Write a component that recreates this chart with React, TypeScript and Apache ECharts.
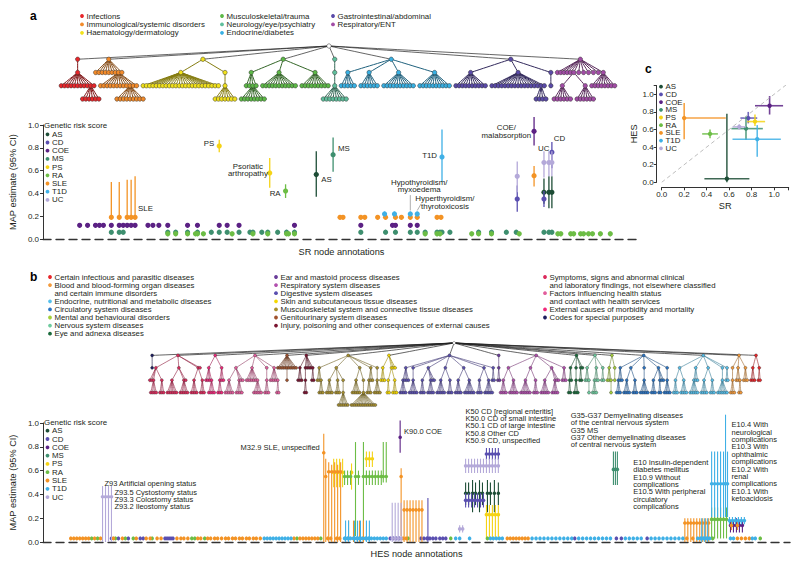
import React, { useEffect, useRef } from "react";
import * as echarts from "echarts";

const FONT = '"Liberation Sans", Arial, Helvetica, sans-serif';
const INK = "#231f20";

// ---------------- Genetic risk scores ----------------
const GRS = ["AS", "CD", "COE", "MS", "PS", "RA", "SLE", "T1D", "UC"];
const GRS_COLORS = ["#1d4d36", "#5a4fb0", "#5b2184", "#3e8f6f", "#f5d315", "#6cbd45", "#f39325", "#3fb0e6", "#b4a9d9"];

// ---------------- Panel a: SR nodes  [node position, MAP, CI low, CI high] ----------------
const ROW_CI = 0.02;
const aAS = [[313, 0.565, 0.37, 0.77], [543, 0.41, 0.31, 0.53], [548, 0.41, 0.27, 0.55], [551, 0.41, 0.27, 0.55]];
const aCD = [[516, 0.35, 0.24, 0.47], [543, 0.35, 0.28, 0.42], [551, 0.76, 0.62, 0.85]];
const aCOE = [[533, 0.945, 0.82, 1.07]];
const aCOErowX = [74, 82, 90, 94, 98, 106, 114, 118, 122, 126, 130, 143, 148, 154, 163, 183, 193, 215, 223, 235, 291, 358, 390, 393, 408, 415];
const aCOErowY = 0.12;
const aMS = [[330, 0.74, 0.59, 0.89]];
const aMSrowX = [106, 114, 118, 163, 171, 183, 193, 207, 215, 223, 235, 246, 249, 258, 264, 274, 283, 291, 358, 383, 393, 408, 415, 423, 435, 438, 440, 448, 477, 490, 505, 515, 543, 548, 551];
const aMSrowY = 0.06;
const aPS = [[215, 0.815, 0.76, 0.87], [266, 0.58, 0.45, 0.71]];
const aRA = [[282, 0.42, 0.36, 0.48]];
const aRArowX = [163, 171, 183, 191, 193, 199, 228, 249, 264, 283, 285, 291, 423, 435, 438, 470, 477, 490, 518, 557, 560, 570, 573, 580, 583, 588, 592, 600, 610];
const aRArowY = 0.045;
const aSLE = [[106, 0.19, 0.17, 0.5], [114, 0.19, 0.17, 0.5], [122, 0.19, 0.17, 0.52], [126, 0.19, 0.17, 0.52], [130, 0.19, 0.17, 0.55], [533, 0.555, 0.46, 0.64]];
const aSLErowX = [337, 340, 358, 362, 375, 383, 393, 399, 408, 415, 435, 439];
const aSLErowY = 0.19;
const aT1D = [[440, 0.72, 0.5, 0.96]];
const aT1DrowX = [382, 392, 408, 415];
const aT1DrowY = 0.22;
const aUC = [[516, 0.55, 0.41, 0.68], [543, 0.67, 0.54, 0.77], [548, 0.67, 0.55, 0.77], [551, 0.67, 0.55, 0.77]];

// ---------------- Panel b: HES nodes ----------------
const bBaseY = 0.03;
const bAS = [[463, 0.41, 0.31, 0.5], [466, 0.41, 0.31, 0.5], [470, 0.41, 0.25, 0.52], [473, 0.41, 0.31, 0.5], [477, 0.41, 0.25, 0.52], [480, 0.41, 0.31, 0.5], [485, 0.41, 0.25, 0.52], [488, 0.41, 0.31, 0.5], [492, 0.41, 0.25, 0.52], [496, 0.41, 0.31, 0.5]];
const bCD = [[425, 0.03, 0.0, 0.37], [463, 0.35, 0.29, 0.41], [466, 0.35, 0.29, 0.41], [469, 0.35, 0.29, 0.41], [472, 0.35, 0.29, 0.41], [475, 0.35, 0.29, 0.41], [478, 0.35, 0.29, 0.41], [481, 0.35, 0.29, 0.41], [484, 0.74, 0.69, 0.79], [487, 0.74, 0.69, 0.79], [490, 0.74, 0.69, 0.79], [493, 0.74, 0.69, 0.79], [496, 0.74, 0.69, 0.79]];
const bCDbaseX = [106, 113, 123, 135, 138, 160, 162, 164, 166, 168, 387, 390, 393, 396, 418, 421, 424, 427, 430, 433, 437, 440, 443, 573, 615, 620, 646];
const bCOE = [[397, 0.88, 0.75, 1.02], [730, 0.14, 0.08, 0.18], [733, 0.14, 0.08, 0.18], [736, 0.14, 0.08, 0.2], [739, 0.14, 0.08, 0.18], [742, 0.14, 0.08, 0.18]];
const bMS = [[612, 0.61, 0.48, 0.76], [614, 0.61, 0.48, 0.76], [616, 0.61, 0.48, 0.76]];
const bPS = [[330, 0.585, 0.46, 0.7], [333, 0.585, 0.46, 0.7], [336, 0.585, 0.46, 0.7], [339, 0.585, 0.46, 0.7], [348, 0.585, 0.44, 0.66], [363, 0.7, 0.63, 0.76], [366, 0.7, 0.63, 0.76], [369, 0.7, 0.63, 0.76], [484, 0.23, 0.03, 0.31], [487, 0.23, 0.03, 0.31], [490, 0.23, 0.03, 0.31], [493, 0.23, 0.03, 0.31], [496, 0.23, 0.03, 0.31]];
const bRA = [[341, 0.55, 0.48, 0.6], [344, 0.55, 0.48, 0.6], [347, 0.55, 0.48, 0.6], [352, 0.55, 0.05, 0.84], [355, 0.55, 0.48, 0.6], [360, 0.55, 0.03, 0.84], [363, 0.55, 0.48, 0.6], [366, 0.55, 0.48, 0.6], [369, 0.55, 0.48, 0.6], [372, 0.55, 0.48, 0.6], [375, 0.55, 0.48, 0.6], [378, 0.55, 0.48, 0.6], [380, 0.55, 0.5, 0.84], [383, 0.55, 0.5, 0.84], [711, 0.19, 0.03, 0.29], [714, 0.19, 0.03, 0.29], [717, 0.19, 0.03, 0.29], [720, 0.19, 0.03, 0.29], [723, 0.19, 0.03, 0.29], [726, 0.19, 0.03, 0.29]];
const bRAbaseX = [86, 92, 110, 120, 128, 147, 187, 190, 200, 293, 317, 405, 448, 485, 712, 760];
const bSLE = [[320, 0.75, 0.0, 0.91], [322, 0.55, 0.0, 0.7], [325, 0.59, 0.0, 0.67], [328, 0.59, 0.0, 0.65], [331, 0.59, 0.0, 0.67], [334, 0.59, 0.0, 0.65], [337, 0.59, 0.0, 0.67], [345, 0.03, 0.0, 0.18], [350, 0.03, 0.0, 0.18], [356, 0.03, 0.0, 0.18], [360, 0.03, 0.0, 0.18], [398, 0.55, 0.05, 0.62], [401, 0.27, 0.0, 0.35], [404, 0.27, 0.0, 0.35], [407, 0.27, 0.0, 0.35], [410, 0.27, 0.0, 0.35], [413, 0.27, 0.0, 0.35], [416, 0.27, 0.0, 0.35], [419, 0.27, 0.0, 0.35], [684, 0.16, 0.0, 0.2], [687, 0.16, 0.0, 0.2], [690, 0.16, 0.0, 0.2], [693, 0.16, 0.0, 0.2], [696, 0.16, 0.0, 0.2], [699, 0.16, 0.0, 0.2], [702, 0.16, 0.0, 0.2], [705, 0.16, 0.0, 0.2], [708, 0.16, 0.0, 0.2], [731, 0.14, 0.1, 0.18], [737, 0.14, 0.1, 0.18]];
const bSLEbaseX = [65, 68, 71, 74, 77, 80, 83, 89, 95, 108, 117, 131, 141, 145, 152, 156, 172, 176, 179, 183, 193, 196, 203, 206, 210, 213, 217, 221, 224, 228, 231, 235, 238, 242, 245, 249, 252, 256, 290, 296, 299, 302, 305, 308, 311, 314, 324, 327, 333, 336, 400, 403, 505, 508, 511, 514, 517, 520, 523, 526, 686, 692, 737, 741, 745, 749];
const bT1D = [[342, 0.03, 0.0, 0.18], [345, 0.03, 0.0, 0.18], [351, 0.03, 0.0, 0.18], [354, 0.03, 0.0, 0.18], [357, 0.03, 0.0, 0.18], [363, 0.03, 0.0, 0.18], [366, 0.03, 0.0, 0.18], [701, 0.03, 0.0, 0.2], [704, 0.03, 0.0, 0.2], [707, 0.03, 0.0, 0.2], [711, 0.49, 0.21, 0.76], [714, 0.49, 0.21, 0.76], [717, 0.49, 0.21, 0.76], [720, 0.49, 0.21, 0.76], [723, 0.49, 0.21, 0.76], [725, 0.49, 0.21, 1.07], [727, 0.49, 0.21, 0.76], [729, 0.18, 0.15, 0.21], [732, 0.18, 0.15, 0.21], [735, 0.18, 0.15, 0.21], [738, 0.18, 0.15, 0.21], [741, 0.18, 0.15, 0.21], [744, 0.18, 0.15, 0.21]];
const bT1DbaseX = [260, 263, 266, 269, 272, 275, 278, 281, 284, 287, 341, 344, 347, 350, 353, 356, 359, 362, 365, 368, 371, 374, 377, 380, 383, 453, 457, 467, 488, 491, 494, 497, 500, 530, 534, 538, 542, 546, 550, 554, 558, 562, 566, 570, 577, 581, 585, 589, 593, 597, 601, 605, 609, 624, 628, 632, 636, 640, 650, 654, 658, 662, 666, 670, 674, 678, 682, 697, 700, 703, 706, 709, 730, 733, 752, 755];
const bUC = [[97, 0.38, 0.0, 0.47], [100, 0.38, 0.0, 0.47], [103, 0.38, 0.0, 0.47], [106, 0.38, 0.0, 0.47], [389, 0.03, 0.0, 0.33], [392, 0.03, 0.0, 0.33], [395, 0.03, 0.0, 0.33], [398, 0.03, 0.0, 0.33], [457, 0.11, 0.08, 0.14], [460, 0.11, 0.08, 0.14], [463, 0.64, 0.58, 0.7], [466, 0.64, 0.58, 0.7], [469, 0.64, 0.58, 0.7], [472, 0.64, 0.58, 0.7], [475, 0.64, 0.58, 0.7], [478, 0.64, 0.58, 0.7], [481, 0.64, 0.58, 0.7], [484, 0.64, 0.58, 0.7], [487, 0.64, 0.58, 0.7], [490, 0.64, 0.58, 0.7], [493, 0.64, 0.58, 0.7], [496, 0.64, 0.58, 0.7]];

// ---------------- Panel c: SR vs HES  [SR, HES, SR low, SR high, HES low, HES high] ----------------
const cPoints = [
  [0.58, 0.04, 0.38, 0.78, 0.0, 0.78],
  [0.77, 0.73, 0.7, 0.85, 0.67, 0.8],
  [0.96, 0.87, 0.83, 1.08, 0.77, 0.98],
  [0.75, 0.61, 0.62, 0.9, 0.48, 0.75],
  [0.83, 0.69, 0.76, 0.92, 0.64, 0.77],
  [0.43, 0.55, 0.36, 0.5, 0.5, 0.6],
  [0.2, 0.73, 0.19, 0.57, 0.49, 0.9],
  [0.85, 0.49, 0.63, 1.06, 0.29, 0.65],
  [0.69, 0.63, 0.63, 0.75, 0.6, 0.66],
];

// ---------------- Annotations ----------------
const aNotes = [
  { x: 133, y: 0.27, t: "SLE", a: "left" },
  { x: 210, y: 0.84, t: "PS", a: "right" },
  { x: 244, y: 0.64, t: "Psoriatic\narthropathy", a: "center" },
  { x: 277, y: 0.4, t: "RA", a: "right" },
  { x: 318, y: 0.52, t: "AS", a: "left" },
  { x: 335, y: 0.79, t: "MS", a: "left" },
  { x: 435, y: 0.73, t: "T1D", a: "right" },
  { x: 505, y: 0.98, t: "COE/\nmalabsorption", a: "center" },
  { x: 537, y: 0.79, t: "UC", a: "left" },
  { x: 553, y: 0.885, t: "CD", a: "left" },
  { x: 417, y: 0.5, t: "Hypothyroidism/\nmyxoedema", a: "center" },
  { x: 443, y: 0.355, t: "Hyperthyroidism/\nthyrotoxicosis", a: "center" },
];
const aLeaders = [[408, 0.385, 408, 0.25], [419, 0.31, 415, 0.25]];
const bNotes = [
  { x: 99, y: 0.49, t: "Z93 Artificial opening status", a: "left" },
  { x: 109, y: 0.42, t: "Z93.5 Cystostomy status\nZ93.3 Colostomy status\nZ93.2 Ileostomy status", a: "left" },
  { x: 316, y: 0.79, t: "M32.9 SLE, unspecified", a: "right" },
  { x: 401, y: 0.925, t: "K90.0 COE", a: "left" },
  { x: 463, y: 1.1, t: "K50 CD [regional enteritis]\nK50.0 CD of small intestine\nK50.1 CD of large intestine\nK50.8 Other CD\nK50.9 CD, unspecified", a: "left" },
  { x: 569, y: 1.065, t: "G35-G37 Demyelinating diseases\nof the central nervous system\nG35 MS\nG37 Other demyelinating diseases\nof central nervous system", a: "left" },
  { x: 632, y: 0.67, t: "E10 Insulin-dependent\ndiabetes mellitus\nE10.9 Without\ncomplications\nE10.5 With peripheral\ncirculatory\ncomplications", a: "left" },
  { x: 731, y: 0.985, t: "E10.4 With\nneurological\ncomplications\nE10.3 With\nophthalmic\ncomplications\nE10.2 With\nrenal\ncomplications\nE10.1 With\nketoacidosis", a: "left" },
];

// ---------------- Category legends / trees ----------------
const aCatNames = ["Infections", "Immunological/systemic disorders", "Haematology/dermatology", "Musculoskeletal/trauma", "Neurology/eye/psychiatry", "Endocrine/diabetes", "Gastrointestinal/abdominal", "Respiratory/ENT"];
const aCatColors = ["#e8262a", "#f38b2a", "#f2e21b", "#5db947", "#5fbf9c", "#38b0e3", "#5a4aa8", "#a24ca6"];
type Spec = number | Spec[];
// tree structure per SR category (number = count of leaf codes, array = internal node)
const aTreeSpecs: Spec[][] = [
  [[9, [6], 1]],
  [7, [9, [9], 2], 1],
  [[24], [[7]]],
  [[2, [8], 1], [11], [9]],
  [[[8]]],
  [[5], [6], [10], [10]],
  [[10], [15, [4], 1], [1]],
  [5, [[6], [6]], 5, [8]],
];

const bCatNames = [
  "Certain infectious and parasitic diseases",
  "Blood and blood-forming organ diseases\nand certain immune disorders",
  "Endocrine, nutritional and metabolic diseases",
  "Circulatory system diseases",
  "Mental and behavioural disorders",
  "Nervous system diseases",
  "Eye and adnexa diseases",
  "Ear and mastoid process diseases",
  "Respiratory system diseases",
  "Digestive system diseases",
  "Skin and subcutaneous tissue diseases",
  "Musculoskeletal system and connective tissue diseases",
  "Genitourinary system diseases",
  "Injury, poisoning and other consequences of external causes",
  "Symptoms, signs and abnormal clinical\nand laboratory findings, not elsewhere classified",
  "Factors influencing health status\nand contact with health services",
  "External causes of morbidity and mortality",
  "Codes for special purposes",
];
const bCatColors = ["#e8262a", "#f39a3c", "#55c0ec", "#2a74c4", "#a5cf3a", "#6fcb9f", "#1b6b3c", "#6a3d9a", "#b24fae", "#5a4fb0", "#f5d800", "#a8902e", "#a0522d", "#7a1430", "#dc2a5c", "#e25d9c", "#f0287a", "#1d1d5e"];
// HES chapters in tree order (index into bCatNames) and their structure
const bTreeOrder = [17, 14, 16, 15, 12, 13, 11, 10, 9, 7, 8, 6, 5, 4, 3, 2, 1, 0];
const bTreeSpecs: Spec[][] = [
  [1],
  [[2, [4], [3]], [[6], [5], 1], [[4], [3]], 1],
  [[3, [4]], [[3], 2]],
  [[[5], [4], 2], [6, [5]], [[3]], [4, [2]]],
  [5, [1], 5],
  [[3], [[2]], 3, [2]],
  [[2, [3]], [[4], [3], [[6]]], [[5], [[14]]], [[3], 2], [[4]]],
  [[3], [[2], [3]], 2],
  [[[4], 3], [[5]], [[3], [4], 2], [[5], [3]], [[4], [6]], [[3], [5]], [2]],
  [[2]],
  [[[4], [5]], [[6], [3]], [[5], [4], 2], [3]],
  [[[2], 1], [[3]], [2], 1],
  [[2, [1]], [[3], 2], [2]],
  [[2, [1]], [1]],
  [[[3], 2], [[4], [3]], [[5]], [[3], [2], 2], [[4]]],
  [[[3], [4]], [[5], 2], [[4], [3]], [[6]], [2]],
  [[[3]], [2, [2]], [3]],
  [[3], [2]],
];

function darken(hex: string, f: number) {
  const n = parseInt(hex.slice(1), 16);
  const r = Math.round(((n >> 16) & 255) * (1 - f));
  const g = Math.round(((n >> 8) & 255) * (1 - f));
  const b = Math.round((n & 255) * (1 - f));
  return `rgb(${r},${g},${b})`;
}

function conv(s: Spec, color: string, edge: string): any[] {
  if (typeof s === "number") {
    const out: any[] = [];
    for (let i = 0; i < s; i++) out.push({ name: "", itemStyle: { color }, lineStyle: { color: edge } });
    return out;
  }
  return [{ name: "", itemStyle: { color }, lineStyle: { color: edge }, children: s.flatMap((c) => conv(c, color, edge)) }];
}

function buildTree(specs: Spec[][], colors: string[], dark: number) {
  return {
    name: "root",
    itemStyle: { color: "#ffffff" },
    children: specs.map((S, i) => ({
      name: "",
      itemStyle: { color: colors[i] },
      lineStyle: { color: "#222", width: 0.7 },
      children: S.flatMap((c) => conv(c, colors[i], darken(colors[i], dark))),
    })),
  };
}

const withRow = (xs: number[], y: number) => xs.map((x) => [x, y, y - ROW_CI, y + ROW_CI]);
const withBase = (xs: number[]) => xs.map((x) => [x, bBaseY, bBaseY - 0.015, bBaseY + 0.015]);

const aData: Record<string, number[][]> = {
  AS: aAS,
  CD: aCD,
  COE: [...withRow(aCOErowX, aCOErowY), ...aCOE],
  MS: [...withRow(aMSrowX, aMSrowY), ...aMS],
  PS: aPS,
  RA: [...withRow(aRArowX, aRArowY), ...aRA],
  SLE: [...withRow(aSLErowX, aSLErowY), ...aSLE],
  T1D: [...withRow(aT1DrowX, aT1DrowY), ...aT1D],
  UC: aUC,
};
const bData: Record<string, number[][]> = {
  AS: bAS,
  CD: [...withBase(bCDbaseX), ...bCD],
  COE: bCOE,
  MS: bMS,
  PS: bPS,
  RA: [...withBase(bRAbaseX), ...bRA],
  SLE: [...withBase(bSLEbaseX), ...bSLE],
  T1D: [...withBase(bT1DbaseX), ...bT1D],
  UC: bUC,
};

function errPoint(color: string, r: number, lw: number) {
  return (params: any, api: any) => {
    const x = api.value(0), y = api.value(1), lo = api.value(2), hi = api.value(3);
    const c = api.coord([x, y]);
    const a = api.coord([x, lo]);
    const b = api.coord([x, hi]);
    return {
      type: "group",
      children: [
        { type: "line", shape: { x1: c[0], y1: a[1], x2: c[0], y2: b[1] }, style: { stroke: color, lineWidth: lw } },
        { type: "circle", shape: { cx: c[0], cy: c[1], r }, style: { fill: color } },
      ],
    };
  };
}

function cross(color: string) {
  return (params: any, api: any) => {
    const x = api.value(0), y = api.value(1);
    const c = api.coord([x, y]);
    const xl = api.coord([api.value(2), y]);
    const xh = api.coord([api.value(3), y]);
    const yl = api.coord([x, api.value(4)]);
    const yh = api.coord([x, api.value(5)]);
    return {
      type: "group",
      children: [
        { type: "line", shape: { x1: xl[0], y1: c[1], x2: xh[0], y2: c[1] }, style: { stroke: color, lineWidth: 1.6, opacity: 0.85 } },
        { type: "line", shape: { x1: c[0], y1: yl[1], x2: c[0], y2: yh[1] }, style: { stroke: color, lineWidth: 1.6, opacity: 0.85 } },
        { type: "circle", shape: { cx: c[0], cy: c[1], r: 2.2 }, style: { fill: color } },
      ],
    };
  };
}

function notesSeries(notes: any[], axis: number, fs: number, lh: number) {
  return {
    type: "custom",
    xAxisIndex: axis,
    yAxisIndex: axis,
    silent: true,
    data: notes.map((n, i) => [n.x, n.y, i]),
    encode: { x: 0, y: 1 },
    renderItem: (params: any, api: any) => {
      const n = notes[params.dataIndex];
      const c = api.coord([api.value(0), api.value(1)]);
      return {
        type: "text",
        style: { text: n.t, x: c[0], y: c[1] - lh / 2, align: n.a, verticalAlign: "top", fontSize: fs, fontFamily: FONT, lineHeight: lh, fill: INK },
      };
    },
  };
}

function legendColumn(names: string[], colors: string[], idxs: number[], x: number, y0: number, dy: number, fs: number) {
  const els: any[] = [];
  let row = 0;
  idxs.forEach((idx) => {
    const y = y0 + row * dy;
    els.push({ type: "circle", shape: { cx: x, cy: y, r: 1.9 }, style: { fill: colors[idx] }, silent: true });
    els.push({ type: "text", style: { text: names[idx], x: x + 4.5, y: y - dy / 2, verticalAlign: "top", fontSize: fs, lineHeight: dy, fontFamily: FONT, fill: INK }, silent: true });
    row += names[idx].split("\n").length;
  });
  return els;
}

const ALL_GRS = GRS.map((_, i) => i);
const tickFmt = (v: number) => (Math.abs(v * 5 - Math.round(v * 5)) < 1e-6 && v <= 1.0001 ? v.toFixed(1) : "");
const axisText = { fontSize: 8, fontFamily: FONT, color: INK };
const nameText = { fontSize: 9.2, fontFamily: FONT, color: INK };

function buildOption(): any {
  const series: any[] = [];
  series.push({
    type: "tree", data: [buildTree(aTreeSpecs, aCatColors, 0.45)], left: 58, top: 46, width: 560, height: 53,
    orient: "TB", layout: "orthogonal", edgeShape: "curve", expandAndCollapse: false, roam: false, silent: true,
    symbol: "circle", symbolSize: 4.4, itemStyle: { borderColor: "#333", borderWidth: 0.5 },
    lineStyle: { width: 1, curveness: 0, color: "#555" }, label: { show: false }, leaves: { label: { show: false } },
  });
  series.push({
    type: "tree", data: [buildTree(bTreeSpecs, bTreeOrder.map((i) => bCatColors[i]), 0.35)], left: 148, top: 343, width: 614, height: 62,
    orient: "TB", layout: "orthogonal", edgeShape: "curve", expandAndCollapse: false, roam: false, silent: true,
    symbol: "circle", symbolSize: 3, itemStyle: { borderColor: "#333", borderWidth: 0.4 },
    lineStyle: { width: 0.6, curveness: 0, color: "#555" }, label: { show: false }, leaves: { label: { show: false } },
  });
  series.push({
    type: "line", xAxisIndex: 1, yAxisIndex: 1, data: [[0, 0], [1.13, 1.13]], symbol: "none", silent: true,
    lineStyle: { color: "#bdbdbd", width: 1, type: [4, 3] },
  });
  GRS.forEach((g, i) => {
    const col = GRS_COLORS[i];
    series.push({ type: "custom", name: g, xAxisIndex: 0, yAxisIndex: 0, data: aData[g], encode: { x: 0, y: 1 }, renderItem: errPoint(col, 2.6, 1.3), itemStyle: { color: col }, silent: true });
    series.push({ type: "custom", name: g, xAxisIndex: 2, yAxisIndex: 2, data: bData[g], encode: { x: 0, y: 1 }, renderItem: errPoint(col, 1.8, 1.1), itemStyle: { color: col }, silent: true });
    series.push({ type: "custom", name: g, xAxisIndex: 1, yAxisIndex: 1, data: [cPoints[i]], encode: { x: 0, y: 1 }, renderItem: cross(col), itemStyle: { color: col }, silent: true });
  });
  series.push(notesSeries(aNotes, 0, 7.9, 7.9));
  series.push(notesSeries(bNotes, 2, 7.5, 7.4));
  series.push({
    type: "custom", xAxisIndex: 0, yAxisIndex: 0, silent: true, data: aLeaders, encode: { x: 0, y: 1 },
    renderItem: (params: any, api: any) => {
      const p = api.coord([api.value(0), api.value(1)]);
      const q = api.coord([api.value(2), api.value(3)]);
      return { type: "line", shape: { x1: p[0], y1: p[1], x2: q[0], y2: q[1] }, style: { stroke: "#999", lineWidth: 0.8 } };
    },
  });

  const graphic: any[] = [
    { type: "text", style: { text: "a", x: 30, y: 16, fontSize: 12, fontWeight: "bold", fontFamily: FONT, fill: "#000", verticalAlign: "middle" } },
    { type: "text", style: { text: "b", x: 30, y: 277, fontSize: 12, fontWeight: "bold", fontFamily: FONT, fill: "#000", verticalAlign: "middle" } },
    { type: "text", style: { text: "c", x: 645, y: 69, fontSize: 12, fontWeight: "bold", fontFamily: FONT, fill: "#000", verticalAlign: "middle" } },
    { type: "text", style: { text: "Genetic risk score", x: 44, y: 125.5, fontSize: 7.9, fontFamily: FONT, fill: INK, verticalAlign: "middle" } },
    { type: "text", style: { text: "Genetic risk score", x: 44, y: 422, fontSize: 7.9, fontFamily: FONT, fill: INK, verticalAlign: "middle" } },
    ...legendColumn(GRS, GRS_COLORS, ALL_GRS, 47.5, 134.3, 8.2, 7.9),
    ...legendColumn(GRS, GRS_COLORS, ALL_GRS, 47.5, 430.7, 8.3, 7.9),
    ...legendColumn(GRS, GRS_COLORS, ALL_GRS, 661, 86.7, 7.7, 7.9),
    ...legendColumn(aCatNames, aCatColors, [0, 1, 2], 82, 16, 8.4, 7.9),
    ...legendColumn(aCatNames, aCatColors, [3, 4, 5], 222, 16, 8.4, 7.9),
    ...legendColumn(aCatNames, aCatColors, [6, 7], 333, 16, 8.4, 7.9),
    ...legendColumn(bCatNames, bCatColors, [0, 1, 2, 3, 4, 5, 6], 50, 277, 8.1, 7.8),
    ...legendColumn(bCatNames, bCatColors, [7, 8, 9, 10, 11, 12, 13], 276, 277, 8.1, 7.8),
    ...legendColumn(bCatNames, bCatColors, [14, 15, 16, 17], 545, 277, 8.1, 7.8),
  ];

  return {
    animation: false,
    backgroundColor: "#ffffff",
    textStyle: { fontFamily: FONT },
    grid: [
      { left: 37, top: 125, width: 603, height: 114 },
      { left: 661.7, top: 85.5, width: 127, height: 96.8 },
      { left: 37, top: 423, width: 753, height: 119 },
    ],
    xAxis: [
      {
        gridIndex: 0, type: "value", min: 37, max: 640, axisLine: { show: true, lineStyle: { color: "#333", width: 1.4, type: [8, 5] } },
        axisTick: { show: false }, axisLabel: { show: false }, splitLine: { show: false },
        name: "SR node annotations", nameLocation: "middle", nameGap: 8, nameTextStyle: nameText,
      },
      {
        gridIndex: 1, type: "value", min: 0, max: 1.13, interval: 0.2, offset: 5,
        axisLine: { show: true, onZero: false, lineStyle: { color: "#333", width: 1 } },
        axisTick: { show: true, length: 3, lineStyle: { color: "#333" } },
        axisLabel: { formatter: tickFmt, margin: 3, ...axisText }, splitLine: { show: false },
        name: "SR", nameLocation: "middle", nameGap: 14, nameTextStyle: nameText,
      },
      {
        gridIndex: 2, type: "value", min: 37, max: 790, axisLine: { show: true, lineStyle: { color: "#333", width: 1.4, type: [8, 5] } },
        axisTick: { show: false }, axisLabel: { show: false }, splitLine: { show: false },
        name: "HES node annotations", nameLocation: "middle", nameGap: 7, nameTextStyle: nameText,
      },
    ],
    yAxis: [
      {
        gridIndex: 0, type: "value", min: 0, max: 1, interval: 0.2,
        axisLine: { show: true, lineStyle: { color: "#333", width: 1 } },
        axisTick: { show: true, length: 3, lineStyle: { color: "#333" } },
        axisLabel: { formatter: (v: number) => v.toFixed(1), margin: 4, ...axisText }, splitLine: { show: false },
        name: "MAP estimate (95% CI)", nameLocation: "middle", nameGap: 21, nameTextStyle: nameText,
      },
      {
        gridIndex: 1, type: "value", min: 0, max: 1.1, interval: 0.2, offset: 5,
        axisLine: { show: true, onZero: false, lineStyle: { color: "#333", width: 1 } },
        axisTick: { show: true, length: 3, lineStyle: { color: "#333" } },
        axisLabel: { formatter: tickFmt, margin: 3, ...axisText }, splitLine: { show: false },
        name: "HES", nameLocation: "middle", nameGap: 17, nameTextStyle: nameText,
      },
      {
        gridIndex: 2, type: "value", min: 0, max: 1, interval: 0.2,
        axisLine: { show: true, lineStyle: { color: "#333", width: 1 } },
        axisTick: { show: true, length: 3, lineStyle: { color: "#333" } },
        axisLabel: { formatter: (v: number) => v.toFixed(1), margin: 4, ...axisText }, splitLine: { show: false },
        name: "MAP estimate (95% CI)", nameLocation: "middle", nameGap: 21, nameTextStyle: nameText,
      },
    ],
    graphic,
    series,
  };
}

export default function App() {
  const ref = useRef<HTMLDivElement>(null);
  useEffect(() => {
    const chart = echarts.init(ref.current as HTMLDivElement, null, { renderer: "svg" });
    chart.setOption(buildOption());
    return () => chart.dispose();
  }, []);
  return <div ref={ref} style={{ position: "fixed", left: 0, top: 0, width: 800, height: 565, background: "#fff" }} />;
}
